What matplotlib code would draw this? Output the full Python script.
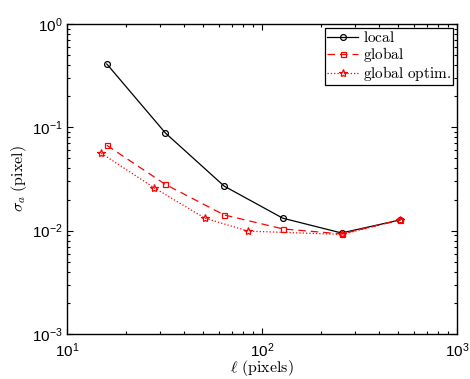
import matplotlib
matplotlib.use("Agg")
import matplotlib.pyplot as plt
from matplotlib.ticker import NullFormatter

plt.rcParams['mathtext.fontset'] = 'cm'

x_local = [16, 32, 64, 128, 256, 512]
y_local = [0.41, 0.088, 0.027, 0.0132, 0.0095, 0.0127]
x_global = [16, 32, 64, 128, 256, 512]
y_global = [0.067, 0.028, 0.0142, 0.0104, 0.0093, 0.0127]
x_optim = [15, 28, 51, 85, 256, 512]
y_optim = [0.056, 0.026, 0.0132, 0.0099, 0.0092, 0.0127]

fig = plt.figure(figsize=(4.7, 3.79), dpi=100)
ax = fig.add_axes([0.1426, 0.1187, 0.8294, 0.818])

ax.plot(x_local, y_local, '-', color='black', lw=0.9, marker='o', ms=4.2,
        mfc='none', mec='black', mew=0.9, label=r'$\mathrm{local}$')
ax.plot(x_global, y_global, '--', color='red', lw=0.9, marker='s', ms=3.6,
        mfc='none', mec='red', mew=0.9, dashes=(6, 4), label=r'$\mathrm{global}$')
ax.plot(x_optim, y_optim, ':', color='red', lw=0.9, marker='*', ms=6,
        mfc='none', mec='red', mew=0.9, label=r'$\mathrm{global\ optim.}$')

ax.set_xscale('log')
ax.set_yscale('log')
ax.set_xlim(10, 1000)
ax.set_ylim(1e-3, 1)

ax.tick_params(which='both', direction='in', top=True, right=True,
               labelsize=11, width=0.8)
ax.tick_params(axis='x', which='major', pad=5)
ax.tick_params(axis='y', which='major', pad=3)
ax.tick_params(which='major', length=4)
ax.tick_params(which='minor', length=2)
for lbl in ax.get_xticklabels() + ax.get_yticklabels():
    lbl.set_family('Liberation Sans')
ax.xaxis.set_minor_formatter(NullFormatter())
ax.yaxis.set_minor_formatter(NullFormatter())
for s in ax.spines.values():
    s.set_linewidth(1.0)

ax.set_xlabel(r'$\ell\ \mathrm{(pixels)}$', fontsize=11.5, labelpad=-1)
ax.set_ylabel(r'$\sigma_a\ \mathrm{(pixel)}$', fontsize=11.5, labelpad=2)

leg = ax.legend(loc='upper right', fancybox=False, edgecolor='black',
                framealpha=1, borderpad=0.15, labelspacing=0.0,
                handlelength=2.0, handletextpad=0.3, borderaxespad=0.25,
                prop={'size': 11})
leg.get_frame().set_linewidth(0.9)

fig.savefig('out.png', dpi=100)
